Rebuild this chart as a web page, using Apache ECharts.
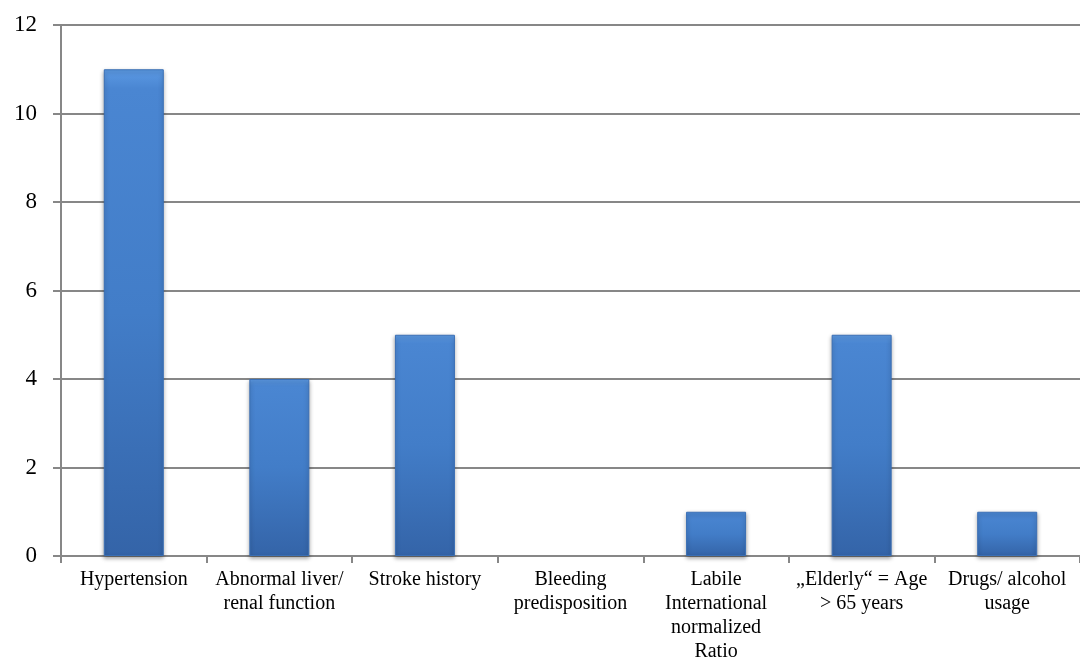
<!DOCTYPE html>
<html>
<head>
<meta charset="utf-8">
<script src="https://cdn.jsdelivr.net/npm/echarts@6/dist/echarts.min.js"></script>
<style>html,body{margin:0;padding:0;background:#fff;}#c{width:1080px;height:664px;}</style>
</head>
<body>
<div id="c"></div>
<script>
const categories = [
  "Hypertension",
  "Abnormal liver/\nrenal function",
  "Stroke history",
  "Bleeding\npredisposition",
  "Labile\nInternational\nnormalized\nRatio",
  "\u201EElderly\u201C = Age\n> 65 years",
  "Drugs/ alcohol\nusage"
];
const values = [11, 4, 5, 0, 1, 5, 1];
const yTicks = { min: 0, max: 12, interval: 2 };

const chart = echarts.init(document.getElementById('c'), null, { renderer: 'canvas' });
chart.setOption({
  animation: false,
  backgroundColor: '#ffffff',
  grid: { left: 61, right: -4, top: 25, bottom: 106, containLabel: false },
  xAxis: {
    type: 'category',
    data: categories,
    axisLine: { lineStyle: { color: '#878787', width: 2 } },
    axisTick: { show: true, length: 7, alignWithLabel: false, lineStyle: { color: '#878787', width: 2 } },
    axisLabel: {
      interval: 0,
      margin: 12,
      color: '#000',
      fontFamily: 'Liberation Serif',
      fontSize: 20,
      lineHeight: 24
    },
    splitLine: { show: false }
  },
  yAxis: {
    type: 'value',
    min: yTicks.min, max: yTicks.max, interval: yTicks.interval,
    axisLine: { show: true, lineStyle: { color: '#878787', width: 2 } },
    axisTick: { show: true, length: 8, lineStyle: { color: '#878787', width: 2 } },
    axisLabel: {
      margin: 24,
      color: '#000',
      fontFamily: 'Liberation Serif',
      fontSize: 23
    },
    splitLine: { show: true, lineStyle: { color: '#878787', width: 2 } }
  },
  series: [{
    type: 'bar',
    data: values.map(v => v === 0 ? { value: v, itemStyle: { opacity: 0 } } : v),
    barWidth: 60,
    itemStyle: {
      color: new echarts.graphic.LinearGradient(0, 0, 0, 1, [
        { offset: 0, color: '#5c9ae4' },
        { offset: 0.04, color: '#4a86d2' },
        { offset: 0.5, color: '#427dc8' },
        { offset: 1, color: '#3464a8' }
      ]),
      borderColor: '#3a6fb5',
      borderWidth: 1,
      shadowColor: 'rgba(0,0,0,0.35)',
      shadowBlur: 4,
      shadowOffsetY: 2
    }
  }]
});
</script>
</body>
</html>
